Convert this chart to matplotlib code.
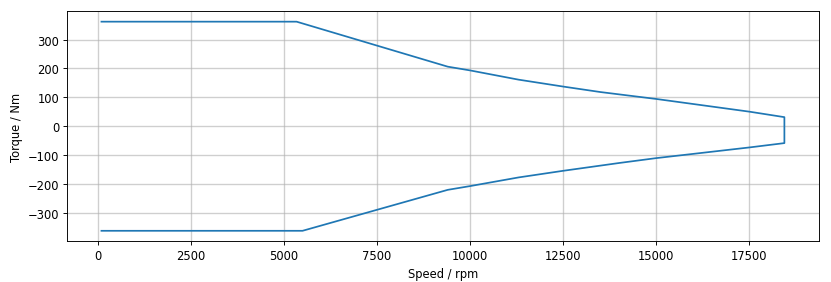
import matplotlib
matplotlib.use("Agg")
import matplotlib.pyplot as plt

# Torque envelope (motoring side, then generating side)
speed_upper = [100, 5340, 9400, 10000, 11300, 12500, 13500, 14000, 15000, 17500, 18440]
torque_upper = [362, 362, 206, 193, 161, 137, 118, 110, 94, 50, 31]
speed_lower = [18440, 17500, 15000, 14000, 13500, 12500, 11300, 10000, 9400, 5500, 100]
torque_lower = [-59, -74, -111, -128, -137, -155, -178, -208, -221, -363, -363]

speed = speed_upper + speed_lower
torque = torque_upper + torque_lower

fig, ax = plt.subplots(figsize=(10, 3.405), dpi=83.1)
ax.plot(speed, torque)
ax.set_xlabel('Speed / rpm')
ax.set_ylabel('Torque / Nm')
ax.grid(True, color='#b0b0b0', alpha=0.6, linewidth=1.2)
fig.subplots_adjust(left=0.081, right=0.985, top=0.957, bottom=0.144)
fig.savefig("out.png", dpi=83.1)
